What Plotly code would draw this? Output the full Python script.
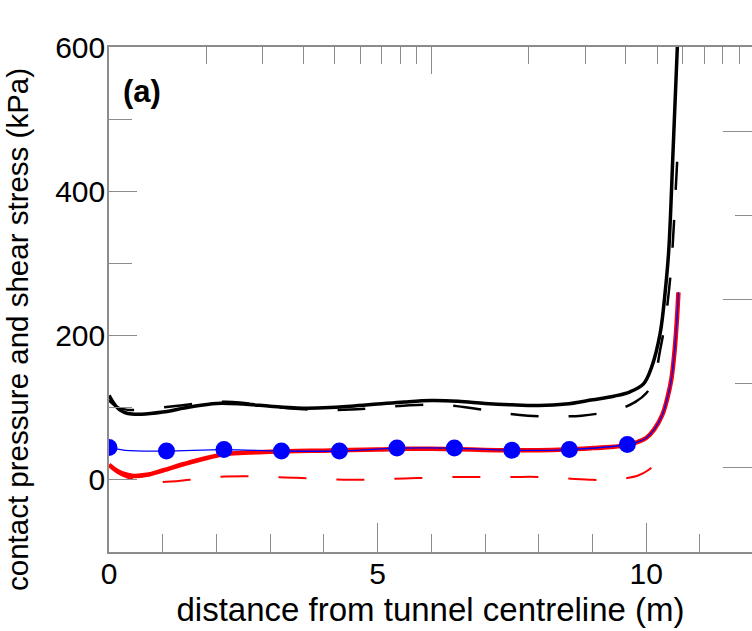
import plotly.graph_objects as go

# ---- contact pressure / shear stress profiles along the lining (x in m, stress in kPa) ----
black_solid_x = [0.0, 0.1, 0.2, 0.35, 0.6, 1.0, 1.5, 2.0, 2.5, 3.0, 3.5, 4.0, 4.5, 5.0, 5.5, 6.0,
                 6.5, 7.0, 7.5, 8.0, 8.5, 9.0, 9.4, 9.7, 9.95, 10.1, 10.26, 10.35, 10.42, 10.5, 10.58]
black_solid_y = [117, 105, 97, 92, 91, 94, 101, 106, 105, 102, 99.5, 100, 102, 105, 108, 110,
                 109, 106, 104, 103, 105, 111, 116, 122, 133, 156, 203, 258, 318, 455, 600]

black_dash_x = [0.0, 0.15, 0.35, 0.7, 1.2, 1.8, 2.3, 2.8, 3.4, 4.0, 4.5, 5.0, 5.6, 6.2, 6.8, 7.3,
                7.8, 8.3, 8.8, 9.2, 9.5, 9.8, 10.0, 10.15, 10.26, 10.35, 10.46, 10.52, 10.58, 10.6]
black_dash_y = [110, 101, 97, 98, 102, 107, 108, 104, 99, 97, 97.5, 100, 103.5, 104, 99, 93,
                89, 88, 89, 93, 98, 108, 120, 140, 180, 217, 290, 360, 445, 465]

red_solid_x = [0.0, 0.1, 0.25, 0.45, 0.7, 1.0, 1.4, 1.8, 2.2, 2.6, 3.0, 3.5, 4.0, 4.5, 5.0, 5.5,
               6.0, 6.5, 7.0, 7.5, 8.0, 8.5, 9.0, 9.4, 9.65, 9.82, 10.0, 10.15, 10.3, 10.4, 10.47,
               10.53, 10.57, 10.6]
red_solid_y = [21, 15, 9, 5.5, 7, 13, 22, 30, 36, 38, 39, 40, 40.5, 41.5, 42, 43,
               43, 42.5, 41.5, 41, 41, 42, 44, 46, 48, 52, 58, 70, 90, 115, 140,
               180, 220, 260]

red_dash_x = [0.0, 0.15, 0.35, 0.6, 1.0, 1.5, 2.0, 2.5, 3.0, 3.5, 4.0, 4.5, 5.0, 5.5, 6.0, 6.5,
              7.0, 7.5, 8.0, 8.5, 9.0, 9.3, 9.6, 9.85, 10.05, 10.26]
red_dash_y = [20, 10, 3, -1, -3, 0, 4, 5, 4, 3, 1, 0, 0.5, 2, 3, 4,
              4, 4, 4, 2, 0, 0, 2, 6, 14, 28]

# shear stress series: thin line plus sampled points
blue_x = [0.0, 0.3, 1.07, 2.14, 3.21, 4.29, 5.36, 6.43, 7.5, 8.57, 9.65, 9.82, 10.0, 10.15,
          10.3, 10.4, 10.47, 10.53, 10.57, 10.6]
blue_y = [45, 41, 40, 42, 40, 40, 44, 44, 41, 42, 49, 52, 58, 70,
          90, 115, 140, 180, 220, 260]
pts_x = [0.0, 1.07, 2.14, 3.21, 4.29, 5.36, 6.43, 7.5, 8.57, 9.65]
pts_y = [45, 40, 42, 40, 40, 44, 44, 41, 42, 49]

# tick positions
x_major = [0, 5, 10]
x_minor = [1, 2, 3, 4, 6, 7, 8, 9, 11]
y_major = [0, 200, 400, 600]
y_minor = [-100, 100, 300, 500]
top_major = [1, 10, 100]
top_minor = [2, 3, 4, 5, 6, 7, 8, 9, 20, 30, 40, 50, 60, 70, 80, 90]
right_major = [1, 3, 5]
right_minor = [2, 4]

FONT = "Liberation Sans"
AX = "#8c8c8c"

fig = go.Figure()
fig.add_trace(go.Scatter(x=red_dash_x, y=red_dash_y, mode="lines", line_shape="spline",
                         line=dict(color="#ff0000", width=2, dash="28px,30px")))
fig.add_trace(go.Scatter(x=black_dash_x, y=black_dash_y, mode="lines", line_shape="spline",
                         line=dict(color="#000000", width=2.5, dash="28px,30px")))
fig.add_trace(go.Scatter(x=black_solid_x, y=black_solid_y, mode="lines", line_shape="spline",
                         line=dict(color="#000000", width=3.5)))
fig.add_trace(go.Scatter(x=red_solid_x, y=red_solid_y, mode="lines", line_shape="spline",
                         line=dict(color="#ff0000", width=4.5)))
fig.add_trace(go.Scatter(x=blue_x, y=blue_y, mode="lines", line_shape="spline",
                         line=dict(color="#0000ff", width=1.3)))
fig.add_trace(go.Scatter(x=pts_x, y=pts_y, mode="markers",
                         marker=dict(color="#0000ff", size=17)))
# secondary axes (top log scale, right scale) carry tick marks only
fig.add_trace(go.Scatter(x=[], y=[], xaxis="x2", yaxis="y2", hoverinfo="skip"))

tickfont = dict(family=FONT, size=30, color="black")

fig.update_layout(
    width=752, height=631,
    margin=dict(l=109, r=0, t=47, b=79),
    plot_bgcolor="white", paper_bgcolor="white",
    showlegend=False,
    xaxis=dict(range=[0, 11.97], tickmode="array", tickvals=x_major, ticks="inside",
               ticklen=29, tickwidth=1.2, tickcolor=AX, showline=True, linecolor=AX,
               linewidth=1.5, showgrid=False, zeroline=False, tickfont=tickfont,
               ticklabelstandoff=-6,
               minor=dict(tickmode="array", tickvals=x_minor, ticks="inside", ticklen=18,
                          tickwidth=1.2, tickcolor=AX, showgrid=False),
               title=dict(text="distance from tunnel centreline (m)",
                          font=dict(family=FONT, size=33, color="black"), standoff=9)),
    xaxis2=dict(type="log", range=[0, 1.993], overlaying="x", side="top", anchor="y",
                tickmode="array", tickvals=top_major, ticks="inside", ticklen=27,
                tickwidth=1.2, tickcolor=AX, showline=True, linecolor=AX, linewidth=1.5,
                showticklabels=False, showgrid=False, zeroline=False,
                minor=dict(tickmode="array", tickvals=top_minor, ticks="inside", ticklen=17,
                           tickwidth=1.2, tickcolor=AX, showgrid=False)),
    yaxis=dict(range=[-100, 600], tickmode="array", tickvals=y_major, ticks="inside",
               ticklen=28, tickwidth=1.2, tickcolor=AX, showline=True, linecolor=AX,
               linewidth=1.5, showgrid=False, zeroline=False, tickfont=tickfont,
               ticklabelstandoff=-4,
               minor=dict(tickmode="array", tickvals=y_minor, ticks="inside", ticklen=23,
                          tickwidth=1.2, tickcolor=AX, showgrid=False)),
    yaxis2=dict(range=[0, 6], overlaying="y", side="right", anchor="x",
                tickmode="array", tickvals=right_major, ticks="inside", ticklen=29,
                tickwidth=1.2, tickcolor=AX, showline=False, showticklabels=False,
                showgrid=False, zeroline=False,
                minor=dict(tickmode="array", tickvals=right_minor, ticks="inside",
                           ticklen=17, tickwidth=1.2, tickcolor=AX, showgrid=False)),
    annotations=[
        dict(text="contact pressure and shear stress (kPa)", textangle=-90,
             xref="paper", yref="paper", x=-0.142, y=0.441, xanchor="center",
             yanchor="middle", showarrow=False,
             font=dict(family=FONT, size=29.5, color="black")),
        dict(text="<b>(a)</b>", xref="paper", yref="paper", x=0.018, y=0.911,
             xanchor="left", yanchor="middle", showarrow=False,
             font=dict(family=FONT, size=31, color="black")),
    ],
)

fig.write_html("out.html")
